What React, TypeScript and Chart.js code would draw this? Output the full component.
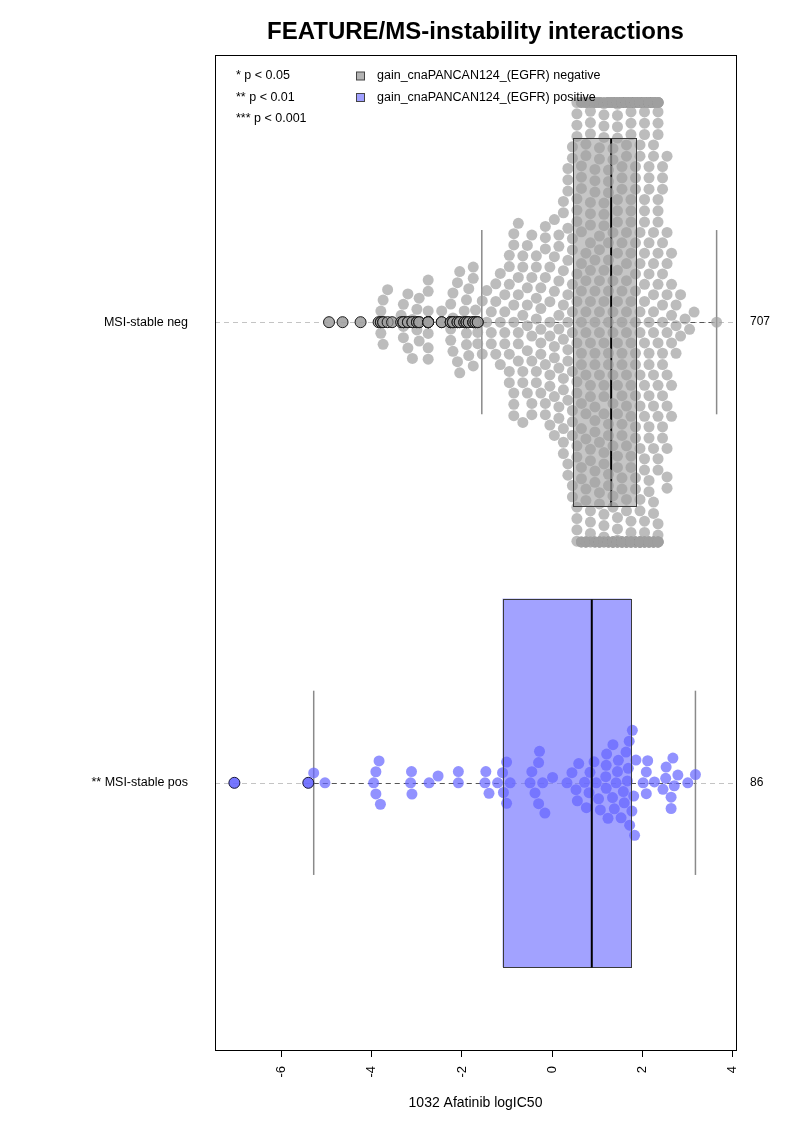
import React, { useEffect, useRef } from "react";
import { Chart, registerables } from "chart.js";

Chart.register(...registerables);

const FONT = "'Liberation Sans', Arial, Helvetica, sans-serif";

// ---- text ----
const chartTitle = "FEATURE/MS-instability interactions";
const xAxisTitle = "1032 Afatinib logIC50";
const groupLabels = ["MSI-stable neg", "** MSI-stable pos"];
const groupCountLabels = ["707", "86"];
const groupPositions = [2, 1];
const xTickValues = [-6, -4, -2, 0, 2, 4];
const legendLabels = ["gain_cnaPANCAN124_(EGFR) negative", "gain_cnaPANCAN124_(EGFR) positive"];
const pValueLegend = ["* p < 0.05", "** p < 0.01", "*** p < 0.001"];

// ---- axis ranges ----
const xMin = -7.48;
const xMax = 4.08;
const yMin = 0.42;
const yMax = 2.58;

// ---- group 1 (EGFR gain negative): values read as 0.05/0.1-wide columns with counts ----
const negValues = [
  -4.95, -4.65, -4.25,
  -3.85, -3.8, -3.75, -3.65, -3.55,
  -3.35, -3.3, -3.2, -3.1, -3.0, -2.95,
  -2.75,
  -2.45,
  -2.25, -2.2, -2.1, -2.05, -1.95, -1.9, -1.85, -1.75, -1.7, -1.65,
  -1.55, -1.45, -1.35, -1.25, -1.15, -1.05, -0.95, -0.85, -0.75, -0.65, -0.55,
  -0.45, -0.35, -0.25, -0.15, -0.05, 0.05, 0.15, 0.25, 0.35, 0.45,
  0.55, 0.65, 0.75, 0.85, 0.95, 1.05, 1.15, 1.25,
  1.35, 1.45, 1.55, 1.65, 1.75, 1.85,
  1.95, 2.05, 2.15, 2.25, 2.35,
  2.45, 2.55, 2.65, 2.75, 2.85, 2.95, 3.05, 3.15, 3.65,
];
const negCounts = [
  1, 1, 1,
  1, 2, 2, 1, 1,
  1, 3, 2, 2, 2, 2,
  7,
  2,
  3, 3, 2, 2, 2, 3, 2, 3, 2, 2,
  2, 2, 3, 3, 3, 4, 6, 7, 6, 6, 6,
  6, 6, 6, 7, 7, 7, 8, 10, 12, 13,
  18, 19, 20, 21, 22, 22, 23, 24,
  28, 29, 30, 30, 30, 29,
  30, 29, 28, 27, 26,
  12, 10, 6, 3, 2, 1, 1, 1, 1,
];

// ---- group 2 (EGFR gain positive): individual values ----
const posValues = [
  -7.05, -5.41, -5.29, -5.04, -3.96, -3.91, -3.91, -3.84, -3.81, -3.14,
  -3.12, -3.11, -2.73, -2.53, -2.08, -2.08, -1.49, -1.47, -1.4, -1.21,
  -1.1, -1.08, -1.01, -1.01, -0.93, -0.49, -0.45, -0.38, -0.3, -0.3,
  -0.28, -0.21, -0.16, 0.01, 0.33, 0.44, 0.53, 0.56, 0.59, 0.72,
  0.76, 0.82, 0.84, 0.93, 0.98, 1.03, 1.07, 1.19, 1.2, 1.2,
  1.21, 1.24, 1.34, 1.35, 1.38, 1.42, 1.45, 1.47, 1.53, 1.58,
  1.6, 1.64, 1.67, 1.69, 1.71, 1.72, 1.77, 1.78, 1.81, 1.83,
  1.86, 2.02, 2.09, 2.09, 2.12, 2.27, 2.46, 2.52, 2.53, 2.64,
  2.64, 2.68, 2.71, 2.79, 3.01, 3.18,
];

// ---- box statistics [neg, pos] ----
const boxLow = [-1.56, -5.29];
const boxQ1 = [0.47, -1.1];
const boxMedian = [1.31, 0.88];
const boxQ3 = [1.87, 1.75];
const boxHigh = [3.65, 3.18];

// ---- styles ----
const pointColors = ["rgba(160,160,160,0.7)", "rgba(100,100,255,0.7)"];
const boxFills = ["rgba(160,160,160,0.6)", "rgba(100,100,255,0.6)"];
const legendFills = ["#b3b3b3", "#a0a0ff"];
const medianOnTop = [false, true];
const BOX_HALF = 0.4;
const CAP_HALF = 0.2;
const GUTTER = 0.477;
const POINT_RADIUS = 5.5;
const SWARM_SPACING = 11.3;

function swarmOffsets(xpx: number[], d: number): number[] {
  const order = xpx.map((_, i) => i).sort((a, b) => xpx[a] - xpx[b] || a - b);
  const px: number[] = [];
  const py: number[] = [];
  const out = new Array(xpx.length).fill(0);
  const d2 = d * d;
  for (const i of order) {
    const xi = xpx[i];
    const nx: number[] = [];
    const ny: number[] = [];
    for (let j = px.length - 1; j >= 0; j--) {
      if (xi - px[j] >= d) break;
      if (Math.abs(xi - px[j]) < d) {
        nx.push(px[j]);
        ny.push(py[j]);
      }
    }
    let best = 0;
    if (nx.length) {
      const cands: number[] = [0];
      for (let k = 0; k < nx.length; k++) {
        const dx = xi - nx[k];
        cands.push(ny[k] + Math.sqrt(d2 - dx * dx));
      }
      for (let k = 0; k < nx.length; k++) {
        const dx = xi - nx[k];
        cands.push(ny[k] - Math.sqrt(d2 - dx * dx));
      }
      let bestAbs = Infinity;
      best = Infinity;
      for (const c of cands) {
        if (Math.abs(c) >= bestAbs) continue;
        let ok = true;
        for (let k = 0; k < nx.length; k++) {
          const dx = xi - nx[k];
          const dy = c - ny[k];
          if (dx * dx + dy * dy < 0.999 * d2) {
            ok = false;
            break;
          }
        }
        if (ok) {
          best = c;
          bestAbs = Math.abs(c);
        }
      }
    }
    out[i] = best;
    px.push(xi);
    py.push(best);
  }
  return out;
}

const crisp = (v: number) => Math.round(v) + 0.5;

const boxPlugin = {
  id: "boxplotLayer",
  beforeDatasetsDraw(chart: any) {
    const { ctx, chartArea } = chart;
    const xs = chart.scales.x;
    const ys = chart.scales.y;
    ctx.save();
    ctx.beginPath();
    ctx.rect(chartArea.left, chartArea.top, chartArea.right - chartArea.left, chartArea.bottom - chartArea.top);
    ctx.clip();
    groupPositions.forEach((pos, g) => {
      const yc = crisp(ys.getPixelForValue(pos));
      // guide line
      ctx.setLineDash([5, 4]);
      ctx.strokeStyle = "#c4c4c4";
      ctx.lineWidth = 1;
      ctx.beginPath();
      ctx.moveTo(chartArea.left, yc);
      ctx.lineTo(chartArea.right, yc);
      ctx.stroke();
      // whiskers
      ctx.strokeStyle = "#555";
      ctx.beginPath();
      ctx.moveTo(xs.getPixelForValue(boxLow[g]), yc);
      ctx.lineTo(xs.getPixelForValue(boxQ1[g]), yc);
      ctx.moveTo(xs.getPixelForValue(boxQ3[g]), yc);
      ctx.lineTo(xs.getPixelForValue(boxHigh[g]), yc);
      ctx.stroke();
      ctx.setLineDash([]);
      // caps
      ctx.strokeStyle = "#8a8a8a";
      ctx.lineWidth = 1.5;
      const c1 = ys.getPixelForValue(pos + CAP_HALF);
      const c2 = ys.getPixelForValue(pos - CAP_HALF);
      [boxLow[g], boxHigh[g]].forEach((v) => {
        const xp = xs.getPixelForValue(v);
        ctx.beginPath();
        ctx.moveTo(xp, c1);
        ctx.lineTo(xp, c2);
        ctx.stroke();
      });
      // box fill
      const bx1 = xs.getPixelForValue(boxQ1[g]);
      const bx2 = xs.getPixelForValue(boxQ3[g]);
      const by1 = ys.getPixelForValue(pos + BOX_HALF);
      const by2 = ys.getPixelForValue(pos - BOX_HALF);
      ctx.fillStyle = boxFills[g];
      ctx.fillRect(bx1, by1, bx2 - bx1, by2 - by1);
      if (!medianOnTop[g]) {
        const mx = xs.getPixelForValue(boxMedian[g]);
        ctx.strokeStyle = "#000";
        ctx.lineWidth = 2;
        ctx.beginPath();
        ctx.moveTo(mx, by1);
        ctx.lineTo(mx, by2);
        ctx.stroke();
      }
    });
    ctx.restore();
  },
  afterDatasetsDraw(chart: any) {
    const { ctx } = chart;
    const xs = chart.scales.x;
    const ys = chart.scales.y;
    ctx.save();
    groupPositions.forEach((pos, g) => {
      const bx1 = crisp(xs.getPixelForValue(boxQ1[g]));
      const bx2 = crisp(xs.getPixelForValue(boxQ3[g]));
      const by1 = crisp(ys.getPixelForValue(pos + BOX_HALF));
      const by2 = crisp(ys.getPixelForValue(pos - BOX_HALF));
      ctx.strokeStyle = "#3a3a3a";
      ctx.lineWidth = 1;
      ctx.strokeRect(bx1, by1, bx2 - bx1, by2 - by1);
      if (medianOnTop[g]) {
        const mx = xs.getPixelForValue(boxMedian[g]);
        ctx.strokeStyle = "#000";
        ctx.lineWidth = 2;
        ctx.beginPath();
        ctx.moveTo(mx, by1);
        ctx.lineTo(mx, by2);
        ctx.stroke();
      }
    });
    ctx.restore();
  },
  afterDraw(chart: any) {
    const { ctx, chartArea } = chart;
    ctx.save();
    // frame
    ctx.strokeStyle = "#000";
    ctx.lineWidth = 1;
    ctx.strokeRect(
      crisp(chartArea.left),
      crisp(chartArea.top),
      Math.round(chartArea.right) - Math.round(chartArea.left),
      Math.round(chartArea.bottom) - Math.round(chartArea.top)
    );
    // title
    ctx.fillStyle = "#000";
    ctx.font = `bold 24px ${FONT}`;
    ctx.textAlign = "center";
    ctx.textBaseline = "alphabetic";
    ctx.fillText(chartTitle, (chartArea.left + chartArea.right) / 2, 39);
    // legends
    ctx.font = `12.5px ${FONT}`;
    ctx.textAlign = "left";
    ctx.textBaseline = "middle";
    const rows = [76, 97.5, 119];
    pValueLegend.forEach((t, i) => ctx.fillText(t, chartArea.left + 21, rows[i]));
    legendLabels.forEach((t, i) => {
      ctx.fillStyle = legendFills[i];
      ctx.fillRect(356.5, rows[i] - 4, 8, 8);
      ctx.strokeStyle = "#444";
      ctx.strokeRect(356.5, rows[i] - 4, 8, 8);
      ctx.fillStyle = "#000";
      ctx.fillText(t, 377, rows[i]);
    });
    ctx.restore();
  },
};

export default function App() {
  const canvasRef = useRef<HTMLCanvasElement>(null);

  useEffect(() => {
    const canvas = canvasRef.current;
    if (!canvas) return;
    const negAll: number[] = [];
    negValues.forEach((v, i) => {
      for (let k = 0; k < negCounts[i]; k++) negAll.push(v);
    });
    const groups = [negAll, posValues];
    const outliers = groups.map((vals, g) => vals.filter((v) => v < boxLow[g] || v > boxHigh[g]));

    const chart = new Chart(canvas, {
      type: "scatter",
      data: {
        datasets: [
          {
            label: "outliers neg",
            data: outliers[0].map((v) => ({ x: v, y: groupPositions[0] })),
            pointRadius: POINT_RADIUS,
            pointHoverRadius: POINT_RADIUS,
            backgroundColor: boxFills[0],
            borderColor: "#1a1a1a",
            borderWidth: 1,
            order: 0,
          },
          {
            label: "outliers pos",
            data: outliers[1].map((v) => ({ x: v, y: groupPositions[1] })),
            pointRadius: POINT_RADIUS,
            pointHoverRadius: POINT_RADIUS,
            backgroundColor: boxFills[1],
            borderColor: "#1a1a3a",
            borderWidth: 1,
            order: 0,
          },
          {
            label: "neg",
            data: [],
            pointRadius: POINT_RADIUS,
            pointHoverRadius: POINT_RADIUS,
            backgroundColor: pointColors[0],
            borderWidth: 0,
            order: 1,
          },
          {
            label: "pos",
            data: [],
            pointRadius: POINT_RADIUS,
            pointHoverRadius: POINT_RADIUS,
            backgroundColor: pointColors[1],
            borderWidth: 0,
            order: 1,
          },
        ],
      },
      options: {
        responsive: false,
        animation: false,
        devicePixelRatio: 1,
        events: [],
        layout: { padding: { top: 55, left: 0, right: 0, bottom: 0 } },
        plugins: {
          legend: { display: false },
          tooltip: { enabled: false },
          title: { display: false },
        },
        scales: {
          x: {
            type: "linear",
            position: "bottom",
            min: xMin,
            max: xMax,
            afterBuildTicks: (s: any) => {
              s.ticks = xTickValues.map((v) => ({ value: v }));
            },
            afterFit: (s: any) => {
              s.height = 72;
            },
            grid: { display: true, drawOnChartArea: false, drawTicks: true, tickLength: 7, color: "#000", lineWidth: 1 },
            border: { display: false },
            ticks: {
              minRotation: 90,
              maxRotation: 90,
              autoSkip: false,
              padding: 9,
              color: "#000",
              font: { family: FONT, size: 13 },
              callback: (v: any) => String(v),
            },
            title: {
              display: true,
              text: xAxisTitle,
              color: "#000",
              font: { family: FONT, size: 14 },
              padding: { top: 0, bottom: 10 },
            },
          },
          y: {
            type: "linear",
            position: "left",
            min: yMin,
            max: yMax,
            afterBuildTicks: (s: any) => {
              s.ticks = groupPositions.map((v) => ({ value: v }));
            },
            afterFit: (s: any) => {
              s.width = 215;
            },
            grid: { display: false, drawTicks: false },
            border: { display: false },
            ticks: {
              padding: 27,
              color: "#000",
              font: { family: FONT, size: 12.5 },
              callback: (v: any) => {
                const i = groupPositions.indexOf(Number(v));
                return i >= 0 ? groupLabels[i] : "";
              },
            },
          },
          yCount: {
            type: "linear",
            position: "right",
            min: yMin,
            max: yMax,
            afterBuildTicks: (s: any) => {
              s.ticks = groupPositions.map((v) => ({ value: v }));
            },
            afterFit: (s: any) => {
              s.width = 57;
            },
            grid: { display: false, drawTicks: false },
            border: { display: false },
            ticks: {
              padding: 14,
              color: "#000",
              font: { family: FONT, size: 12 },
              callback: (v: any) => {
                const i = groupPositions.indexOf(Number(v));
                return i >= 0 ? groupCountLabels[i] : "";
              },
            },
          },
        },
      },
      plugins: [boxPlugin],
    } as any);

    const xs: any = chart.scales.x;
    const ys: any = chart.scales.y;
    const pxPerX = Math.abs(xs.getPixelForValue(1) - xs.getPixelForValue(0));
    const pxPerY = Math.abs(ys.getPixelForValue(1) - ys.getPixelForValue(0));
    groups.forEach((vals, g) => {
      const offs = swarmOffsets(vals.map((v) => v * pxPerX), SWARM_SPACING);
      chart.data.datasets[2 + g].data = vals.map((v, i) => {
        const off = Math.max(-GUTTER, Math.min(GUTTER, offs[i] / pxPerY));
        return { x: v, y: groupPositions[g] + off };
      }) as any;
    });
    chart.update("none");

    return () => chart.destroy();
  }, []);

  return (
    <div style={{ position: "absolute", left: 0, top: 0, width: 793, height: 1122, background: "#fff" }}>
      <canvas ref={canvasRef} width={793} height={1122} style={{ display: "block" }} />
    </div>
  );
}
